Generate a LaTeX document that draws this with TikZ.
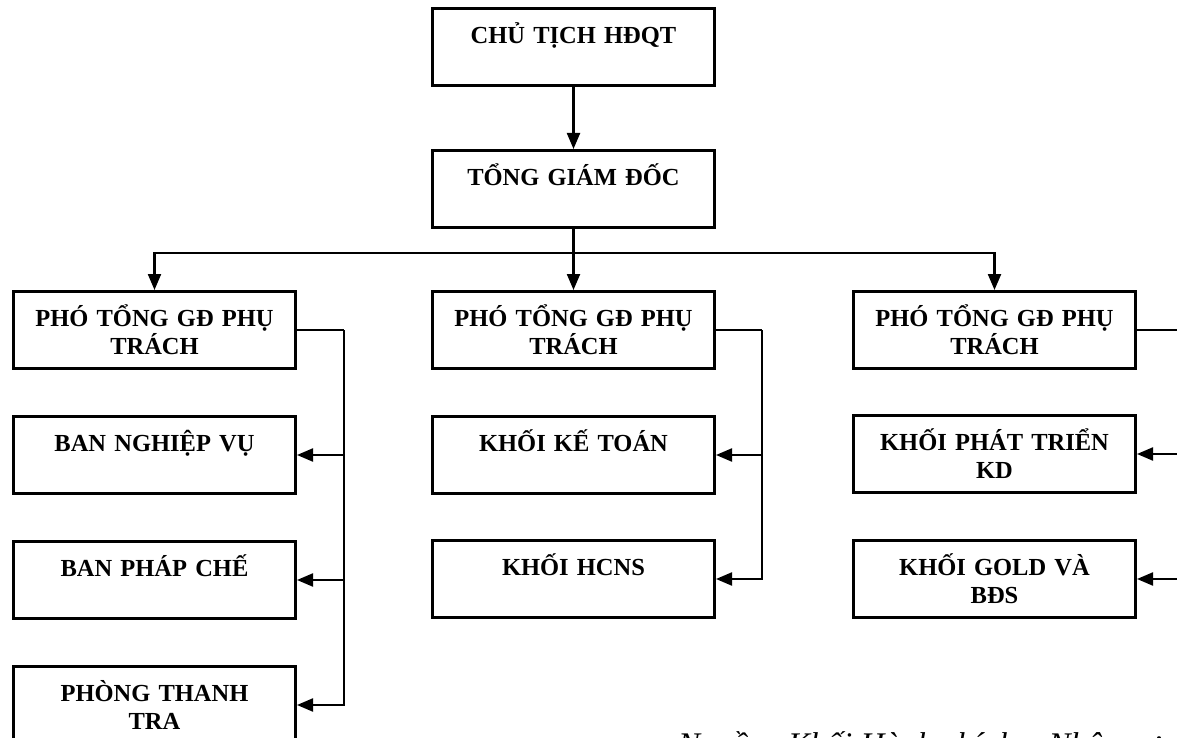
\documentclass[tikz,border=0pt]{standalone}
\usepackage{fontspec}
\setmainfont{Liberation Serif}
\usetikzlibrary{arrows.meta}

\begin{document}
\begin{tikzpicture}[x=1pt, y=-1pt, >={Triangle[length=16pt,width=13pt]},
  unit/.style={draw, line width=3pt, anchor=north west, inner sep=0pt, outer sep=1.5pt,
    minimum width=282pt, text width=270pt, align=center,
    text height=35pt, text depth=42pt, font=\fontsize{24.5}{28}\selectfont\bfseries},
  link/.style={line width=2.2pt}]
\useasboundingbox (0,0) rectangle (1177,738);
\clip (0,0) rectangle (1177,738);

% top of the chart
\node[unit] (ct)  at (431,7)   {CHỦ TỊCH HĐQT};
\node[unit] (tgd) at (431,149) {TỔNG GIÁM ĐỐC};

% three columns
\foreach \n/\x/\y/\t in {%
  ptgd1/12/290/{PHÓ TỔNG GĐ PHỤ\\TRÁCH},
  bnv/12/415/{BAN NGHIỆP VỤ},
  bpc/12/540/{BAN PHÁP CHẾ},
  ptt/12/665/{PHÒNG THANH\\TRA},
  ptgd2/431/290/{PHÓ TỔNG GĐ PHỤ\\TRÁCH},
  kkt/431/415/{KHỐI KẾ TOÁN},
  khcns/431/539/{KHỐI HCNS},
  ptgd3/852/290/{PHÓ TỔNG GĐ PHỤ\\TRÁCH},
  kpt/852/414/{KHỐI PHÁT TRIỂN\\KD},
  kgold/852/539/{KHỐI GOLD VÀ\\BĐS}} {
  \node[unit] (\n) at (\x,\y) {\t};
}

\draw[link,->] (ct) -- (tgd);
\draw[link] (tgd.south) -- ++(0,24) coordinate (bus);
\foreach \n in {ptgd1,ptgd2,ptgd3}
  \draw[link,->] (bus) -| (\n.north);

% side connectors
\draw[link] (ptgd1.east) -- ++(47,0) coordinate (v1);
\draw[link,->] (v1) |- (ptt.east);
\foreach \n in {bnv,bpc}
  \draw[link,->] (v1 |- \n.east) -- (\n.east);

\draw[link] (ptgd2.east) -- ++(46,0) coordinate (v2);
\draw[link,->] (v2) |- (khcns.east);
\draw[link,->] (v2 |- kkt.east) -- (kkt.east);

\draw[link] (ptgd3.east) -- ++(52,0) coordinate (v3);
\draw[link] (v3) -- (v3 |- kgold.east);
\foreach \n in {kpt,kgold}
  \draw[link,->] (v3 |- \n.east) -- (\n.east);

\node[anchor=base west, inner sep=0pt, font=\fontsize{33}{40}\selectfont\itshape] (src)
  at (678,755) {Nguồn: Khối Hành chính – Nhân sự};
\end{tikzpicture}
\end{document}
